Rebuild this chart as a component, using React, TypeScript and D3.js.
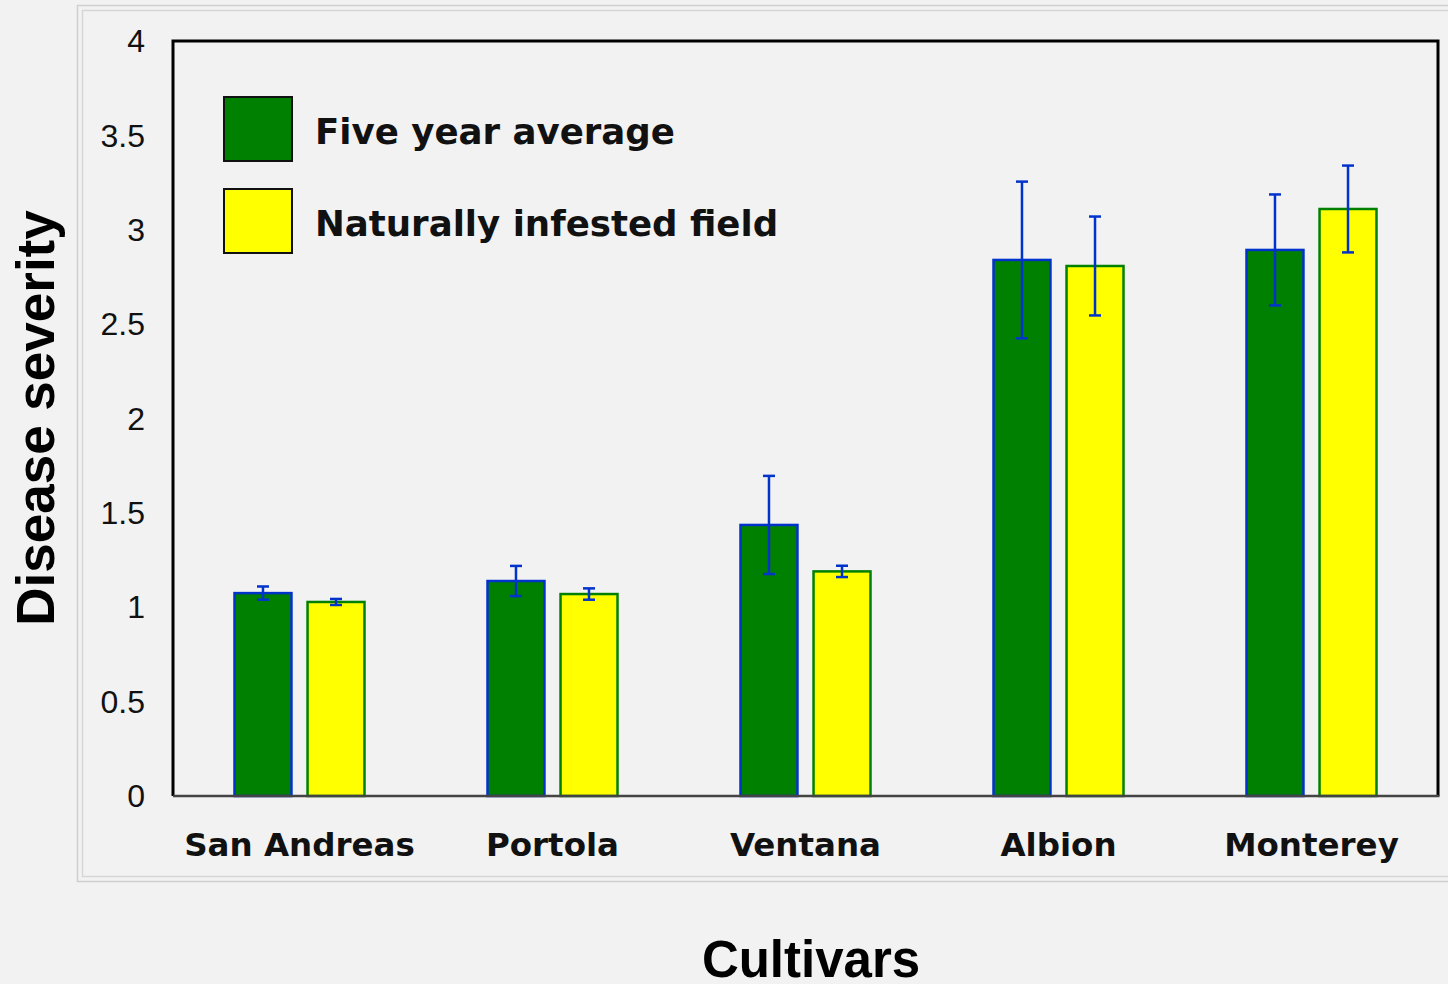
import React from "react";
import * as d3 from "d3";

const cultivars = ["San Andreas", "Portola", "Ventana", "Albion", "Monterey"];
const fiveYearAvg = [1.075, 1.139, 1.436, 2.84, 2.893];
const fiveYearErr = [0.035, 0.08, 0.26, 0.415, 0.294];
const naturalField = [1.028, 1.07, 1.19, 2.808, 3.11];
const naturalErr = [0.016, 0.03, 0.03, 0.262, 0.23];
const yTicks = [0, 0.5, 1, 1.5, 2, 2.5, 3, 3.5, 4];

const W = 1448;
const H = 984;
const plot = { left: 173, top: 41, right: 1438, bottom: 796 };

const series = [
  { name: "Five year average", values: fiveYearAvg, errs: fiveYearErr, fill: "#008000", stroke: "#0033cc" },
  { name: "Naturally infested field", values: naturalField, errs: naturalErr, fill: "#ffff00", stroke: "#008000" },
];

const App = () => {
  const x = d3.scaleBand().domain(cultivars).range([plot.left, plot.right]);
  const x1 = d3
    .scaleBand()
    .domain(series.map((s) => s.name))
    .range([x.bandwidth() / 2 - 65, x.bandwidth() / 2 + 65])
    .paddingInner(0.22);
  const y = d3.scaleLinear().domain([0, 4]).range([plot.bottom, plot.top]);
  const bw = x1.bandwidth();

  return (
    <svg width={W} height={H} style={{ display: "block", position: "absolute", left: 0, top: 0, background: "#f2f2f2" }}>
      <rect x={0} y={0} width={W} height={H} fill="#f2f2f2" />
      {/* double frame */}
      <rect x={77.5} y={5.5} width={1400} height={876} fill="none" stroke="#cfcfcf" strokeWidth={1.5} />
      <rect x={82.5} y={10.5} width={1400} height={866} fill="none" stroke="#d6d6d6" strokeWidth={1.5} />

      {/* y tick labels */}
      {yTicks.map((t) => (
        <text
          key={t}
          x={145}
          y={y(t)}
          dy="0.35em"
          textAnchor="end"
          fontFamily="Liberation Sans, Arial, sans-serif"
          fontSize={32}
          fill="#111"
        >
          {t}
        </text>
      ))}

      {/* bars */}
      {cultivars.map((c, i) => (
        <g key={c} transform={`translate(${x(c)},0)`}>
          {series.map((s) => {
            const bx = x1(s.name)!;
            const v = s.values[i];
            const e = s.errs[i];
            const cx = bx + bw / 2;
            return (
              <g key={s.name}>
                <rect
                  x={bx}
                  y={y(v)}
                  width={bw}
                  height={plot.bottom - y(v)}
                  fill={s.fill}
                  stroke={s.stroke}
                  strokeWidth={2.5}
                />
                <line x1={cx} x2={cx} y1={y(v + e)} y2={y(v - e)} stroke="#0033cc" strokeWidth={2.5} />
                <line x1={cx - 6} x2={cx + 6} y1={y(v + e)} y2={y(v + e)} stroke="#0033cc" strokeWidth={2.5} />
                <line x1={cx - 6} x2={cx + 6} y1={y(v - e)} y2={y(v - e)} stroke="#0033cc" strokeWidth={2.5} />
              </g>
            );
          })}
          <text
            x={x.bandwidth() / 2}
            y={856}
            textAnchor="middle"
            fontFamily="DejaVu Sans, Verdana, sans-serif"
            fontWeight="bold"
            fontSize={32.5}
            fill="#111"
          >
            {c}
          </text>
        </g>
      ))}

      {/* plot frame */}
      <path
        d={`M${plot.left},${plot.bottom} V${plot.top} H${plot.right} V${plot.bottom}`}
        fill="none"
        stroke="#000"
        strokeWidth={3}
      />
      <line x1={plot.left} x2={plot.right + 1.5} y1={plot.bottom} y2={plot.bottom} stroke="#444" strokeWidth={2.5} />

      {/* legend */}
      {series.map((s, i) => (
        <g key={s.name} transform={`translate(224,${97 + i * 92})`}>
          <rect width={68} height={64} fill={s.fill} stroke="#111" strokeWidth={2} />
          <text
            x={91}
            y={47}
            fontFamily="DejaVu Sans, Verdana, sans-serif"
            fontWeight="bold"
            fontSize={35.6}
            fill="#111"
          >
            {s.name}
          </text>
        </g>
      ))}

      {/* axis titles */}
      <text
        transform={`translate(54,418) rotate(-90)`}
        textAnchor="middle"
        fontFamily="Liberation Sans, Arial, sans-serif"
        fontWeight="bold"
        fontSize={53}
        fill="#000"
      >
        Disease severity
      </text>
      <text
        x={811}
        y={977}
        textAnchor="middle"
        fontFamily="Liberation Sans, Arial, sans-serif"
        fontWeight="bold"
        fontSize={51}
        fill="#000"
      >
        Cultivars
      </text>
    </svg>
  );
};

export default App;
